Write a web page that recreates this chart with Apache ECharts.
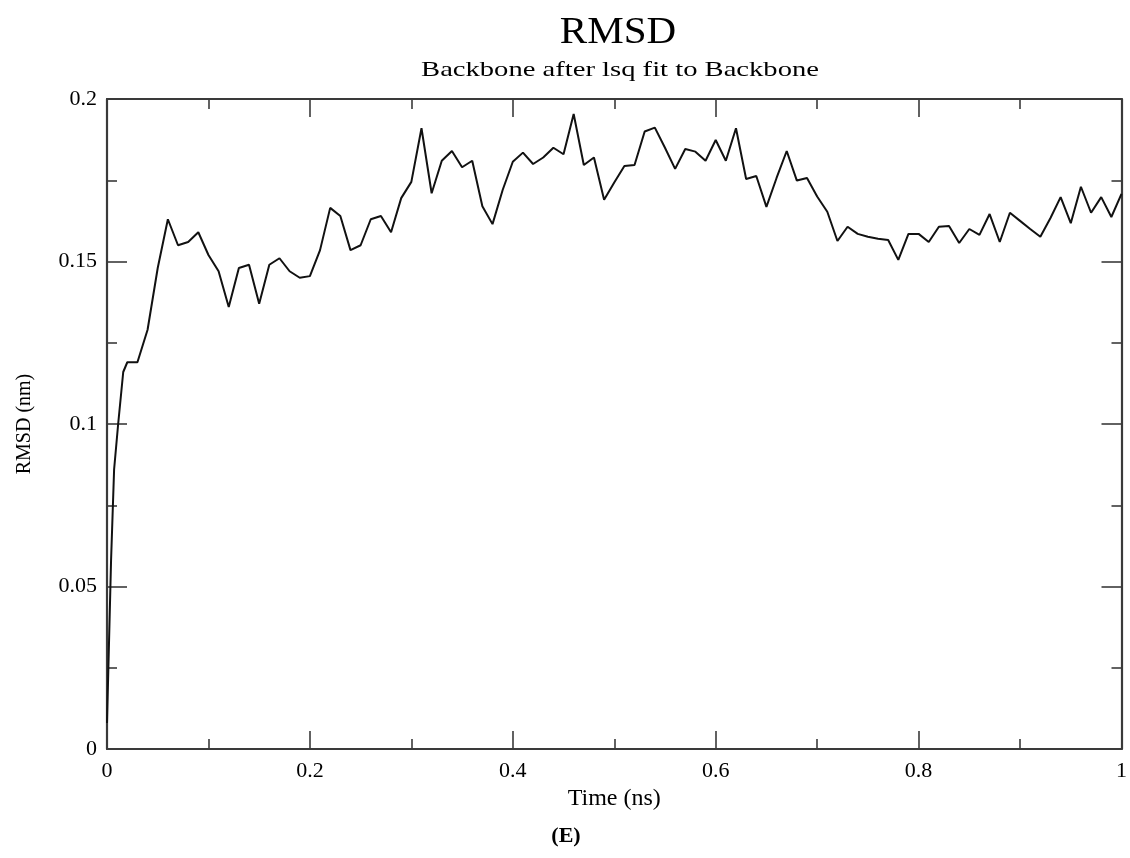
<!DOCTYPE html>
<html>
<head>
<meta charset="utf-8">
<title>RMSD</title>
<script src="https://cdn.jsdelivr.net/npm/echarts@6/dist/echarts.min.js"></script>
<style>
  html, body { margin: 0; padding: 0; background: #fff; }
  #chart { width: 1130px; height: 858px; }
</style>
</head>
<body>
<div id="chart"></div>
<script>
// ---- data ----
const titleText = 'RMSD';
const subtitleText = 'Backbone after lsq fit to Backbone';
const panelLabel = '(E)';
const xAxisName = 'Time (ns)';
const yAxisName = 'RMSD (nm)';

const timeNs = [
  0, 0.004, 0.007, 0.011, 0.016,
  0.02, 0.03, 0.04, 0.05, 0.06, 0.07, 0.08, 0.09, 0.10,
  0.11, 0.12, 0.13, 0.14, 0.15, 0.16, 0.17, 0.18, 0.19, 0.20,
  0.21, 0.22, 0.23, 0.24, 0.25, 0.26, 0.27, 0.28, 0.29, 0.30,
  0.31, 0.32, 0.33, 0.34, 0.35, 0.36, 0.37, 0.38, 0.39, 0.40,
  0.41, 0.42, 0.43, 0.44, 0.45, 0.46, 0.47, 0.48, 0.49, 0.50,
  0.51, 0.52, 0.53, 0.54, 0.55, 0.56, 0.57, 0.58, 0.59, 0.60,
  0.61, 0.62, 0.63, 0.64, 0.65, 0.66, 0.67, 0.68, 0.69, 0.70,
  0.71, 0.72, 0.73, 0.74, 0.75, 0.76, 0.77, 0.78, 0.79, 0.80,
  0.81, 0.82, 0.83, 0.84, 0.85, 0.86, 0.87, 0.88, 0.89, 0.90,
  0.91, 0.92, 0.93, 0.94, 0.95, 0.96, 0.97, 0.98, 0.99, 1.00
];

const rmsdNm = [
  0.008, 0.058, 0.086, 0.100, 0.116,
  0.119, 0.119, 0.129, 0.148, 0.163, 0.155, 0.156, 0.159, 0.152,
  0.147, 0.136, 0.148, 0.149, 0.137, 0.149, 0.151, 0.147, 0.145, 0.1455,
  0.1535, 0.1665, 0.164, 0.1535, 0.155, 0.163, 0.164, 0.159, 0.1695, 0.1745,
  0.191, 0.171, 0.181, 0.184, 0.179, 0.181, 0.167, 0.1615, 0.172, 0.1807,
  0.1835, 0.180, 0.182, 0.185, 0.183, 0.1954, 0.1797, 0.182, 0.169, 0.1743,
  0.1794, 0.1797, 0.190, 0.1912, 0.185, 0.1785, 0.1846, 0.1838, 0.181, 0.1874,
  0.181, 0.191, 0.1754, 0.1763, 0.1668, 0.1757, 0.184, 0.1749, 0.1757, 0.170,
  0.1653, 0.1563, 0.1607, 0.1585, 0.1576, 0.157, 0.1566, 0.1505, 0.1585, 0.1585,
  0.156, 0.1607, 0.1609, 0.1557, 0.160, 0.1582, 0.1646, 0.156, 0.165, 0.1625,
  0.160, 0.1576, 0.1634, 0.1698, 0.1618, 0.173, 0.165, 0.1698, 0.1637, 0.1708
];

const xMin = 0, xMax = 1, xInterval = 0.2;
const yMin = 0, yMax = 0.2, yInterval = 0.05;

// ---- chart ----
const FONT = '"Liberation Serif", "Times New Roman", serif';
const AXIS_COLOR = '#3a3a3a';

const seriesData = timeNs.map((t, i) => [t, rmsdNm[i]]);

function xAxisCfg(position, showLabels) {
  return {
    type: 'value', position: position, min: xMin, max: xMax, interval: xInterval,
    name: showLabels ? xAxisName : '',
    nameLocation: 'middle', nameGap: 37,
    nameTextStyle: { fontFamily: FONT, fontSize: 24, color: '#000' },
    axisLine: { show: true, onZero: false, lineStyle: { color: AXIS_COLOR, width: 2.2 } },
    axisTick: { show: true, inside: true, length: 18, lineStyle: { color: AXIS_COLOR, width: 1.6 } },
    minorTick: { show: true, splitNumber: 2, length: 10, lineStyle: { color: AXIS_COLOR, width: 1.6 } },
    axisLabel: { show: showLabels, margin: 11, fontFamily: FONT, fontSize: 22, color: '#000' },
    splitLine: { show: false },
    minorSplitLine: { show: false }
  };
}
function yAxisCfg(position, showLabels) {
  return {
    type: 'value', position: position, min: yMin, max: yMax, interval: yInterval,
    name: showLabels ? yAxisName : '',
    nameLocation: 'middle', nameGap: 72, nameRotate: 90,
    nameTextStyle: { fontFamily: FONT, fontSize: 20, color: '#000' },
    axisLine: { show: true, onZero: false, lineStyle: { color: AXIS_COLOR, width: 2.2 } },
    axisTick: { show: true, inside: true, length: 20, lineStyle: { color: AXIS_COLOR, width: 1.6 } },
    minorTick: { show: true, splitNumber: 2, length: 10, lineStyle: { color: AXIS_COLOR, width: 1.6 } },
    axisLabel: { show: showLabels, margin: 10, fontFamily: FONT, fontSize: 22, color: '#000' },
    splitLine: { show: false },
    minorSplitLine: { show: false }
  };
}

const chart = echarts.init(document.getElementById('chart'), null, { renderer: 'canvas' });
chart.setOption({
  animation: false,
  backgroundColor: '#fff',
  grid: { left: 107, right: 3, top: 99, bottom: 109, containLabel: false },
  xAxis: [xAxisCfg('bottom', true), xAxisCfg('top', false)],
  yAxis: [yAxisCfg('left', true), yAxisCfg('right', false)],
  graphic: [
    { type: 'text', x: 618, y: 33, scaleX: 1.08, style: { text: titleText, fontFamily: FONT, fontSize: 38, fill: '#000', align: 'center', verticalAlign: 'middle' } },
    { type: 'text', x: 620, y: 70, scaleX: 1.3, style: { text: subtitleText, fontFamily: FONT, fontSize: 22, fill: '#000', align: 'center', verticalAlign: 'middle' } },
    { type: 'text', x: 566, y: 836, style: { text: panelLabel, fontFamily: FONT, fontSize: 22, fontWeight: 'bold', fill: '#000', align: 'center', verticalAlign: 'middle' } }
  ],
  series: [{
    type: 'line',
    xAxisIndex: 0, yAxisIndex: 0,
    data: seriesData,
    showSymbol: false,
    symbol: 'none',
    lineStyle: { color: '#111', width: 2 },
    clip: true,
    z: 3
  }]
});
</script>
</body>
</html>
